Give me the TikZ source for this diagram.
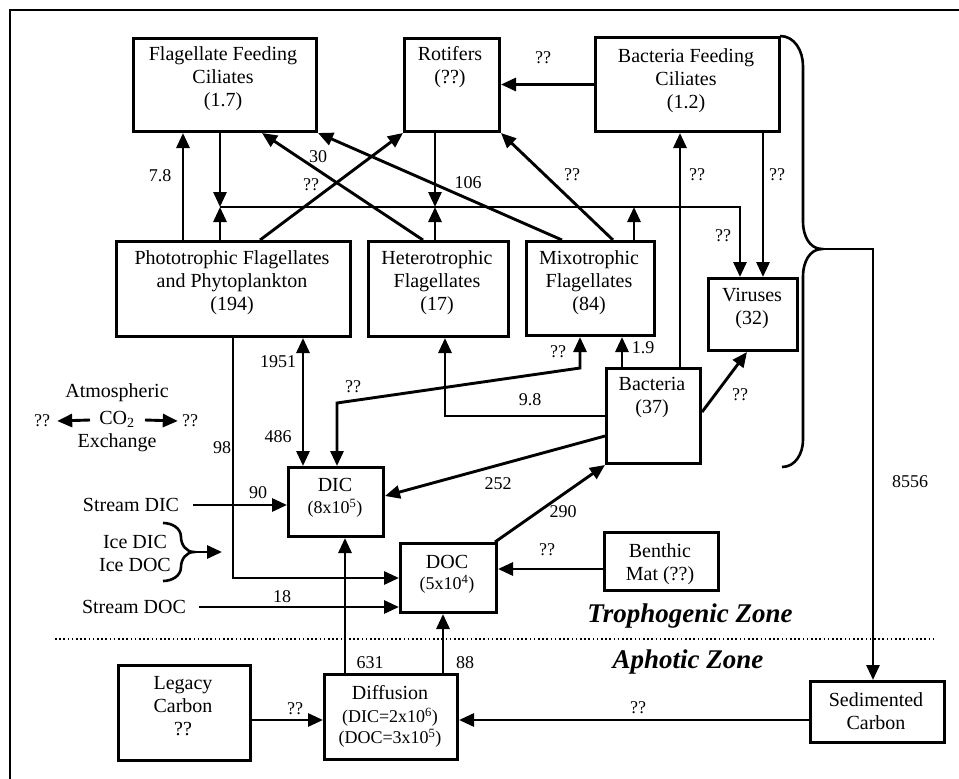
\documentclass[tikz,border=0pt]{standalone}
\usepackage{fontspec}
\setmainfont{Liberation Serif}
\usetikzlibrary{arrows.meta,calc}
\begin{document}
\begin{tikzpicture}[x=1pt,y=-1pt,
  box/.style={draw,line width=3pt,inner sep=0pt,anchor=north west},
  txt/.style={align=center,font=\fontsize{20}{23}\selectfont,inner sep=2pt},
  small/.style={align=center,font=\fontsize{18}{21}\selectfont,inner sep=1pt},
  lab/.style={font=\fontsize{18}{20}\selectfont,inner sep=1pt},
  conn/.style={line width=2.9pt},
  arr/.style={conn,-{Triangle[length=15pt,width=13pt]}},
  arrb/.style={conn,{Triangle[length=15pt,width=13pt]}-{Triangle[length=15pt,width=13pt]}},
  zone/.style={font=\fontsize{27}{30}\selectfont\bfseries\itshape}]
\useasboundingbox (0,0) rectangle (959,779);
% frame
\draw[line width=2.6pt] (10,779) -- (10,10) -- (959,10);

% boxes
\node[box,minimum width=183pt,minimum height=93pt] (ffc) at (132,37) {};
\node[box,minimum width=95pt,minimum height=93pt] (rot) at (403,37) {};
\node[box,minimum width=184pt,minimum height=94pt] (bfc) at (594,36) {};
\node[box,minimum width=234pt,minimum height=95pt] (photo) at (115,240) {};
\node[box,minimum width=140pt,minimum height=95pt] (het) at (367,240) {};
\node[box,minimum width=128pt,minimum height=94pt] (mixo) at (525,240) {};
\node[box,minimum width=89pt,minimum height=72pt] (vir) at (707,277) {};
\node[box,minimum width=94pt,minimum height=95pt] (bact) at (605,367) {};
\node[box,minimum width=95pt,minimum height=69pt] (dic) at (287,466) {};
\node[box,minimum width=96pt,minimum height=69pt] (doc) at (399,542) {};
\node[box,minimum width=114pt,minimum height=58pt] (benthic) at (603,531) {};
\node[box,minimum width=132pt,minimum height=95pt] (legacy) at (117,664) {};
\node[box,minimum width=133pt,minimum height=85pt] (diff) at (323,673) {};
\node[box,minimum width=134pt,minimum height=61pt] (sed) at (809,680) {};

% box texts
\node[txt] (ffct) at (223,79) {Flagellate Feeding\\Ciliates\\(1.7)};
\node[txt] (rott) at (450,67) {Rotifers\\(??)};
\node[txt] (bfct) at (686,81) {Bacteria Feeding\\Ciliates\\(1.2)};
\node[txt] (photot) at (232,283) {Phototrophic Flagellates\\and Phytoplankton\\(194)};
\node[txt] (hett) at (437,283) {Heterotrophic\\Flagellates\\(17)};
\node[txt] (mixot) at (589,283) {Mixotrophic\\Flagellates\\(84)};
\node[txt] (virt) at (752,309) {Viruses\\(32)};
\node[txt] (bactt) at (652,398) {Bacteria\\(37)};
\node[txt] (dict) at (335,485) {DIC};
\node[small] (dicv) at (335,508) {(8x10\textsuperscript{5})};
\node[txt] (doct) at (447,562) {DOC};
\node[small] (docv) at (447,584) {(5x10\textsuperscript{4})};
\node[txt] (bentht) at (660,564) {Benthic\\Mat (??)};
\node[txt] (legt) at (183,706) {Legacy\\Carbon\\??};
\node[txt] (difft) at (390,693) {Diffusion};
\node[small] (diffv) at (390,728) {(DIC=2x10\textsuperscript{6})\\(DOC=3x10\textsuperscript{5})};
\node[txt] (sedt) at (876,711) {Sedimented\\Carbon};

% bus
\coordinate (b1) at (220,207);
\coordinate (b2) at (435,207);
\coordinate (b3) at (634,207);
\coordinate (b4) at (740,207);
\draw[arr] (b1) -- (b4) -- ([xshift=33pt]vir.north west);
\draw[arr] ([xshift=88pt]ffc.south west) -- (b1);
\draw[arr] ([xshift=105pt]photo.north west) -- (b1);
\draw[arr] ([xshift=32pt]rot.south west) -- (b2);
\draw[arr] ([xshift=68pt]het.north west) -- (b2);
\draw[arr] ([xshift=109pt]mixo.north west) -- (b3);
\node[lab] (l01) at (723,236) {??};

% upper connectors
\draw[arr] ([xshift=68pt]photo.north west) -- ([xshift=51pt]ffc.south west);
\node[lab] (l02) at (160,176) {7.8};
\draw[arr] ([xshift=145pt]photo.north west) -- (rot.south west);
\node[lab] (l03) at (311,185) {??};
\draw[arr] ([xshift=56pt]het.north west) -- ([xshift=130pt]ffc.south west);
\node[lab] (l04) at (318,157) {30};
\draw[arr] ([xshift=37pt]mixo.north west) -- (ffc.south east);
\node[lab] (l05) at (468,183) {106};
\draw[arr] ([xshift=88pt]mixo.north west) -- (rot.south east);
\node[lab] (l06) at (572,175) {??};
\draw[arr] (bfc.west) -- (bfc.west -| rot.east);
\node[lab] (l07) at (543,58) {??};
\draw[arr] ([xshift=75pt]bact.north west) -- ([xshift=86pt]bfc.south west);
\node[lab] (l08) at (697,175) {??};
\draw[arr] ([xshift=169pt]bfc.south west) -- ([xshift=56pt]vir.north west);
\node[lab] (l09) at (777,175) {??};

% bacteria connectors
\draw[arr] ([yshift=-45pt]bact.north east) -- ([xshift=40pt]vir.south west);
\node[lab] (l10) at (740,395) {??};
\draw[arr] ([xshift=17pt]bact.north west) -- ([xshift=97pt]mixo.south west);
\node[lab] (l11) at (643,348) {1.9};
\draw[arr] ([yshift=-49pt]bact.north west) -| ([xshift=78pt]het.south west);
\node[lab] (l12) at (530,400) {9.8};
\coordinate (m1) at (580,368);
\coordinate (m2) at (337,403);
\draw[arrb] ([xshift=55pt]mixo.south west) -- (m1) -- (m2) -- ([xshift=50pt]dic.north west);
\node[lab] (l13) at (558,352) {??};
\node[lab] (l14) at (353,387) {??};
\draw[arrb] ([xshift=188pt]photo.south west) -- ([xshift=16pt]dic.north west);
\node[lab] (l15) at (278,362) {1951};
\node[lab] (l16) at (278,437) {486};
\draw[arr] ([yshift=-69pt]bact.north west) -- ([yshift=-30pt]dic.north east);
\node[lab] (l17) at (498,484) {252};
\draw[arr] ([xshift=-3pt]doc.north east) -- (bact.south west);
\node[lab] (l18) at (563,512) {290};
\draw[arr] ([xshift=118pt]photo.south west) |- (doc.west);
\node[lab] (l19) at (222,448) {98};

% atmospheric
\node[txt] (atm) at (117,393) {Atmospheric};
\node[txt] (co2) at (117,419) {CO\textsubscript{2}};
\node[txt] (exch) at (117,443) {Exchange};
\node[lab] (qa) at (42,421) {??};
\node[lab] (qb) at (190,421) {??};
\draw[arr] (90,420) -- ([xshift=6pt]qa.east);
\draw[arr] (145,420) -- ([xshift=-3pt]qb.west);

% stream inputs
\node[txt] (sdic) at (131,505) {Stream DIC};
\draw[arr] ([xshift=12pt]sdic.east) -- (sdic.east -| dic.west);
\node[lab] (l20) at (258,493) {90};
\node[txt] (sdoc) at (134,607) {Stream DOC};
\draw[arr] ([xshift=11pt]sdoc.east) -- (sdoc.east -| doc.west);
\node[lab] (l21) at (282,597) {18};
\node[txt] (ice) at (135,553) {Ice DIC\\Ice DOC};
\coordinate (icetip) at (194,552);
\coordinate (iceend) at (222,552);
\draw[conn,line width=2.6pt] (163,523) to[out=0,in=90] (181,537) to[out=-90,in=180] (icetip)
      to[out=180,in=90] (181,567) to[out=-90,in=0] (163,581);
\draw[arr] (icetip) -- (iceend);

% benthic
\draw[arr] ([yshift=-38pt]benthic.north west) -- ([yshift=-27pt]doc.north east);
\node[lab] (l22) at (547,550) {??};

% zones
\node[zone] (troph) at (690,616) {Trophogenic Zone};
\draw[line width=2pt,dash pattern=on 1.6pt off 2.6pt] (55,639) -- (933,639);
\node[zone] (aph) at (688,662) {Aphotic Zone};

% diffusion
\draw[arr] ([xshift=22pt]diff.north west) -- ([xshift=58pt]dic.south west);
\node[lab] (l23) at (370,663) {631};
\draw[arr] ([xshift=120pt]diff.north west) -- ([xshift=44pt]doc.south west);
\node[lab] (l24) at (465,663) {88};
\draw[arr] ([yshift=-56pt]legacy.north east) -- ([yshift=-47pt]diff.north west);
\node[lab] (l25) at (295,709) {??};
\draw[arr] ([yshift=-40pt]sed.north west) -- ([yshift=-47pt]diff.north east);
\node[lab] (l26) at (638,708) {??};

% big brace
\coordinate (bt) at (822,249);
\draw[conn,line width=2.6pt] (780,36) to[out=0,in=90] (803,66) -- (803,222) to[out=-90,in=180] (bt)
      to[out=180,in=90] (803,276) -- (803,440) to[out=-90,in=0] (782,467);
\draw[arr] (bt) -- (873,249) -- ([xshift=64pt]sed.north west);
\node[lab] (l27) at (910,482) {8556};
\end{tikzpicture}
\end{document}
